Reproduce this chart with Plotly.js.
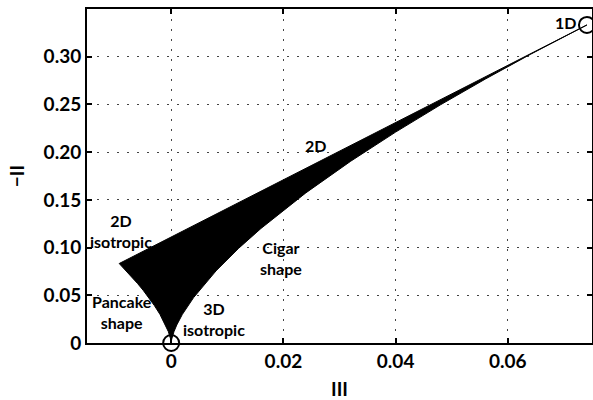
<!DOCTYPE html>
<html><head><meta charset="utf-8">
<script src="https://cdn.plot.ly/plotly-3.0.1.min.js"></script>
<style>body{margin:0;background:#fff}#plot{width:593px;height:400px}</style>
</head><body><div id="plot"></div>
<script>
// Boundary of the anisotropy-invariant region (III, -II)
const rightCurveIII = [0, 0.0001, 0.0005, 0.001, 0.002, 0.004, 0.008, 0.012, 0.016, 0.024, 0.032, 0.040, 0.048, 0.056, 0.064, 0.0741];
const rightCurveII  = [0, 0.0041, 0.0119, 0.0189, 0.0300, 0.0476, 0.0756, 0.0991, 0.1200, 0.1573, 0.1905, 0.2210, 0.2496, 0.2766, 0.3024, 0.3333];
const leftCurveIII  = [-0.00926, -0.008, -0.007, -0.006, -0.005, -0.004, -0.003, -0.002, -0.001, -0.0005, -0.0001, 0];
const leftCurveII   = [0.0833, 0.0756, 0.0692, 0.0624, 0.0553, 0.0476, 0.0393, 0.0300, 0.0189, 0.0119, 0.0041, 0];
const markIII = [0, 0.0741];
const markII  = [0, 0.3333];
const xTickVals = [0, 0.02, 0.04, 0.06];
const xTickText = ["0", "0.02", "0.04", "0.06"];
const yTickVals = [0, 0.05, 0.10, 0.15, 0.20, 0.25, 0.30];
const yTickText = ["0", "0.05", "0.10", "0.15", "0.20", "0.25", "0.30"];

const polyX = rightCurveIII.concat(leftCurveIII);
const polyY = rightCurveII.concat(leftCurveII);

const F = "Lato, 'Open Sans', sans-serif";
const traces = [
  {x: polyX, y: polyY, type: 'scatter', mode: 'lines', fill: 'toself',
   fillcolor: '#000', line: {color: '#000', width: 1}, hoverinfo: 'skip'},
  {x: markIII, y: markII, type: 'scatter', mode: 'markers', cliponaxis: false,
   marker: {symbol: 'circle-open', size: 16, color: '#000', line: {width: 2, color: '#000'}}}
];
const ann = (x, y, t) => ({x, y, text: t, showarrow: false, xref: 'x', yref: 'y',
  font: {family: F, size: 16, color: '#000', weight: 'bold'}});
const axCommon = {showline: true, linecolor: '#000', linewidth: 2, mirror: 'ticks',
  ticks: 'inside', ticklen: 5, tickwidth: 2, tickcolor: '#000',
  showgrid: true, gridcolor: '#444', griddash: '2px,8px', gridwidth: 1, zeroline: false,
  tickfont: {family: F, size: 19, color: '#000', weight: 'bold'}};
const layout = {
  width: 593, height: 400, showlegend: false,
  margin: {l: 87, r: 1, t: 9, b: 57},
  paper_bgcolor: '#fff', plot_bgcolor: '#fff',
  xaxis: Object.assign({}, axCommon, {range: [-0.015, 0.075], tickvals: xTickVals, ticktext: xTickText,
    title: {text: 'III', font: {family: F, size: 19, color: '#000', weight: 'bold'}, standoff: 12}}),
  yaxis: Object.assign({}, axCommon, {range: [0, 0.35], tickvals: yTickVals, ticktext: yTickText,
    title: {text: '\u2212II', font: {family: F, size: 19, color: '#000', weight: 'bold'}, standoff: 14}}),
  annotations: [
    ann(0.0703, 0.3355, '1D'),
    ann(0.0257, 0.2072, '2D'),
    ann(-0.0089, 0.1172, '2D<br>isotropic'),
    ann(0.0195, 0.0889, 'Cigar<br>shape'),
    ann(-0.0087, 0.0322, 'Pancake<br>shape'),
    ann(0.0077, 0.0249, '3D<br>isotropic')
  ]
};
Plotly.newPlot('plot', traces, layout, {displayModeBar: false, staticPlot: true});
</script></body></html>
